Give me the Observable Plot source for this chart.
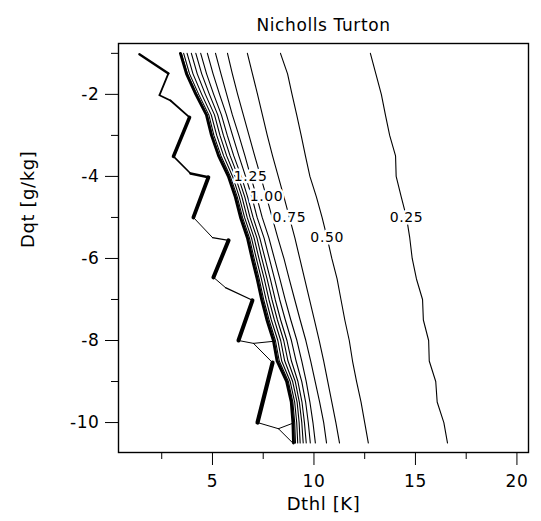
<!DOCTYPE html>
<html><head><meta charset="utf-8">
<script src="https://cdn.jsdelivr.net/npm/d3@7"></script>
<script src="https://cdn.jsdelivr.net/npm/@observablehq/plot@0.6"></script>
<style>body{margin:0;background:#fff} svg{display:block} svg text{letter-spacing:0.6px}</style>
</head><body><div id="chart"></div>
<script>
// rows of the Dqt grid [g/kg]
const dqt = [-1,-1.5,-2,-2.5,-3,-3.5,-4,-4.5,-5,-5.5,-6,-6.5,-7,-7.5,-8,-8.5,-9,-9.5,-10,-10.5];
// Dthl [K] of each contour level at every Dqt row
const c025 = [12.78,13.05,13.32,13.52,13.73,14.02,14.05,14.30,14.56,14.72,14.84,15.05,15.35,15.39,15.65,15.68,16.0,16.07,16.4,16.58];
const c050 = [8.35,8.70,8.92,9.15,9.37,9.58,9.80,10.12,10.40,10.65,10.88,11.14,11.33,11.52,11.74,11.90,12.10,12.32,12.50,12.68];
const c075 = [6.72,6.97,7.22,7.46,7.70,7.96,8.24,8.52,8.79,9.06,9.30,9.54,9.78,10.02,10.26,10.48,10.68,10.88,11.08,11.26];
const c100 = [5.74,5.98,6.24,6.52,6.80,7.08,7.37,7.66,7.94,8.22,8.52,8.78,9.05,9.32,9.60,9.84,10.06,10.28,10.48,10.62];
const c125 = [5.15,5.42,5.70,5.98,6.30,6.60,6.88,7.18,7.45,7.78,8.05,8.32,8.58,8.86,9.16,9.40,9.62,9.80,9.95,10.07];
const c150 = [4.75,5.03,5.35,5.69,5.99,6.30,6.63,6.94,7.20,7.54,7.80,8.06,8.31,8.59,8.89,9.12,9.40,9.59,9.72,9.82];
const c175 = [4.42,4.71,5.06,5.44,5.73,6.05,6.42,6.73,7.00,7.33,7.59,7.85,8.09,8.36,8.67,8.89,9.21,9.41,9.53,9.62];
const c200 = [4.18,4.47,4.85,5.26,5.54,5.87,6.26,6.59,6.85,7.19,7.43,7.69,7.93,8.20,8.51,8.72,9.08,9.28,9.40,9.47];
const c225 = [3.96,4.25,4.65,5.10,5.37,5.70,6.12,6.45,6.71,7.05,7.29,7.55,7.78,8.05,8.36,8.56,8.95,9.17,9.27,9.32];
const c250 = [3.75,4.04,4.47,4.94,5.21,5.55,5.99,6.32,6.58,6.92,7.16,7.41,7.64,7.90,8.22,8.41,8.83,9.05,9.15,9.20];
const c275 = [3.58,3.87,4.32,4.82,5.07,5.42,5.88,6.22,6.48,6.82,7.05,7.30,7.52,7.79,8.10,8.29,8.74,8.96,9.05,9.09];
const c300 = [3.47,3.77,4.23,4.74,4.99,5.34,5.81,6.15,6.41,6.75,6.98,7.23,7.45,7.72,8.03,8.22,8.68,8.91,8.99,9.02];
const cEdge = [3.42,3.72,4.18,4.70,4.95,5.30,5.78,6.12,6.38,6.72,6.95,7.20,7.42,7.68,8.00,8.18,8.65,8.88,8.96,8.99];

const levels = ["0.25","0.50","0.75","1.00","1.25","1.50","1.75","2.00","2.25","2.50","2.75","3.00"];
const lines = [c025,c050,c075,c100,c125,c150,c175,c200,c225,c250,c275,c300];

// labelled levels and the Dqt row of their label
const labelText = ["0.25","0.50","0.75","1.00","1.25"];
const labelDqt = [-5,-5.5,-5,-4.5,-4];

// jagged high-value boundary (vertices) and stroke weight of each segment
const jagDthl = [1.40,2.83,2.39,2.93,3.87,3.08,3.92,4.80,4.06,5.00,5.79,5.05,5.64,6.97,6.28,7.02,7.96,7.22,8.25,8.94];
const jagDqt  = [-1.02,-1.49,-2.02,-2.15,-2.56,-3.51,-3.93,-4.02,-5.0,-5.49,-5.56,-6.46,-6.71,-7.02,-8.0,-8.07,-8.54,-10.0,-10.15,-10.49];
const jagWeight = [2.4,1.8,1.8,1.8,3.6,1.6,2.6,3.8,1,1.2,4,1,1.2,4,1,1,4.2,1,1];
// short branches from boundary vertices
const branchFrom = [15,18];
const branchDthl = [8.00,8.94];
const branchDqt = [-8.02,-10.02];

const xMajor = [5,10,15,20], xMinor = [2.5,7.5,12.5,17.5];
const yMajor = [-2,-4,-6,-8,-10], yMinor = [-1,-3,-5,-7,-9];

const contourRows = [];
lines.forEach((arr, k) => arr.forEach((v, i) => contourRows.push({level: levels[k], dthl: v, dqt: dqt[i]})));
const edgeRows = cEdge.map((v, i) => ({dthl: v, dqt: dqt[i]}));
const segs = jagWeight.map((w, i) => ({x1: jagDthl[i], y1: jagDqt[i], x2: jagDthl[i+1], y2: jagDqt[i+1], w}));
branchFrom.forEach((j, i) => segs.push({x1: jagDthl[j], y1: jagDqt[j], x2: branchDthl[i], y2: branchDqt[i], w: 1}));
const labelRows = labelText.map((t, i) => {
  const arr = lines[levels.indexOf(t)];
  const r = dqt.indexOf(labelDqt[i]);
  return {text: t, dthl: arr[r], dqt: dqt[r]};
});

const font = "DejaVu Sans, sans-serif";
const chart = Plot.plot({
  width: 541, height: 521,
  marginLeft: 118, marginRight: 13, marginTop: 43, marginBottom: 69,
  style: {fontFamily: font, fontSize: "16px", background: "white", color: "black"},
  x: {domain: [0.37, 20.57]},
  y: {domain: [-10.73, -0.76]},
  marks: [
    Plot.line(contourRows, {x: "dthl", y: "dqt", z: "level", stroke: "black", strokeWidth: 1.1}),
    Plot.line(edgeRows, {x: "dthl", y: "dqt", stroke: "black", strokeWidth: 2.8}),
    Plot.link(segs, {x1: "x1", y1: "y1", x2: "x2", y2: "y2", stroke: "black", strokeWidth: "w", strokeLinecap: "round", strokeLinejoin: "round"}),
    Plot.text(labelRows, {x: "dthl", y: "dqt", text: "text", fill: "black", stroke: "white", strokeWidth: 5, fontSize: 14}),
    Plot.frame({stroke: "black", strokeWidth: 1.4}),
    Plot.axisX({ticks: xMajor, tickSize: 13, tickPadding: 9, tickFormat: d => String(d), label: null, fontSize: 17}),
    Plot.axisX({ticks: xMinor, tickSize: 7, tickFormat: () => "", label: null}),
    Plot.axisY({ticks: yMajor, tickSize: 13, tickPadding: 6, tickFormat: d => String(d), label: null, fontSize: 17}),
    Plot.axisY({ticks: yMinor, tickSize: 7, tickFormat: () => "", label: null}),
    Plot.text(["Nicholls Turton"], {frameAnchor: "top", dy: -25, fontSize: 17}),
    Plot.text(["Dthl [K]"], {frameAnchor: "bottom", dy: 57, fontSize: 18}),
    Plot.text(["Dqt [g/kg]"], {frameAnchor: "left", dx: -90, rotate: -90, fontSize: 18})
  ]
});
document.getElementById("chart").appendChild(chart);
</script>
</body></html>
